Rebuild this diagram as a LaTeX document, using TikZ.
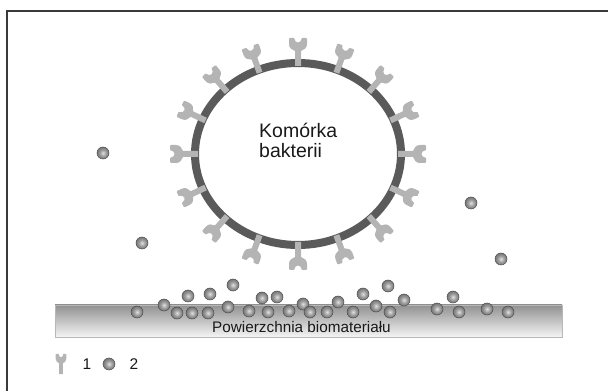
\documentclass[tikz,border=0pt]{standalone}
\usepackage{fontspec}
\setmainfont{Liberation Sans}
\usepackage{tikz}
\usetikzlibrary{positioning}

\definecolor{ringGray}{HTML}{5A5A5A}
\definecolor{receptorGray}{HTML}{B4B4B4}
\definecolor{frameGray}{HTML}{3A3A3A}

% soft sphere, light in the middle, dark rim
\pgfdeclareradialshading{sphereShade}{\pgfpoint{0bp}{0bp}}{%
    color(0bp)=(black!12);
    color(14bp)=(black!40);
    color(32bp)=(black!62);
    color(50bp)=(black!72)}

\tikzset{
    cellWall/.style={
    ,   draw=ringGray
    ,   line width=8pt
    },
    particle/.style={
    ,   circle
    ,   minimum size=12pt
    ,   inner sep=0pt
    ,   draw=black!70
    ,   line width=0.5pt
    ,   shading=sphereShade
    },
    surface/.style={
    ,   rectangle
    ,   inner sep=0pt
    ,   top color=black!43
    ,   bottom color=black!4
    ,   draw=black!28
    ,   line width=0.6pt
    },
    frameLine/.style={
    ,   draw=frameGray
    ,   line width=1.6pt
    },
    labelText/.style={
    ,   inner sep=0pt
    ,   text=black!90
    },
    receptor/.pic={
        \fill[receptorGray] (-3,-3) -- (-3,12)
            .. controls (-6,13) and (-9,15) .. (-9,19) -- (-9,24)
            .. controls (-9,25) .. (-8,25) -- (-4,25)
            .. controls (-3,19) and (3,19) .. (4,25) -- (8,25)
            .. controls (9,25) .. (9,24) -- (9,19)
            .. controls (9,15) and (6,13) .. (3,12) -- (3,-3) -- cycle;
    }
}

\begin{document}
\begin{tikzpicture}[x=1pt,y=1pt
                ,font={\fontsize{15.5pt}{18pt}\selectfont}]
    \useasboundingbox (0,0) rectangle (608,391);
    \draw[frameLine] (7,0) -- (7,380) -- (608,380);

    % bacterial cell with its receptors
    \coordinate (cellCenter) at (298,237);
    \draw[cellWall] (cellCenter) ellipse [x radius=103pt, y radius=91pt];
    \foreach \k in {0,...,15}{
        \pgfmathsetmacro{\t}{22.5*\k}
        \pgfmathsetmacro{\n}{atan2(sin(\t)/91,cos(\t)/103)}
        \pic[rotate=\n-90] at ({298+103*cos(\t)},{237+91*sin(\t)}) {receptor};
    }
    \node[labelText, align=left, anchor=base west
        , font={\fontsize{19.5pt}{20pt}\selectfont}] (cellLabel) at (259,233)
        {Komórka\\bakterii};

    % biomaterial surface
    \node[surface, minimum width=507pt, minimum height=32pt] (surface) at (308.5,70) {};
    \node[labelText, anchor=base, font={\fontsize{15.3pt}{18pt}\selectfont}]
        (surfaceLabel) at (301.5,58) {Powierzchnia biomateriału};

    % free particles
    \foreach \x/\y [count=\i] in {103/238,142/148,471/188,501/132}{
        \node[particle] (free\i) at (\x,\y) {};
    }
    % particles on the surface
    \foreach \x/\y [count=\i] in {137/79,164/86,177/78,192/78,208/78,188/95,210/97,
            233/106,228/84,249/80,262/93,277/94,268/79,289/80,303/87,310/79,327/79,
            338/89,353/79,363/97,376/85,388/105,390/79,404/91,437/82,453/94,459/79,
            487/82,508/79}{
        \node[particle] (bound\i) at (\x,\y) {};
    }

    % legend
    \pic[xscale=0.6, yscale=0.72] at (61,19) {receptor};
    \node[labelText] (legOne) at (87,27) {1};
    \node[particle] (legBall) at (109,27) {};
    \node[labelText] (legTwo) at (134,27) {2};
\end{tikzpicture}
\end{document}
